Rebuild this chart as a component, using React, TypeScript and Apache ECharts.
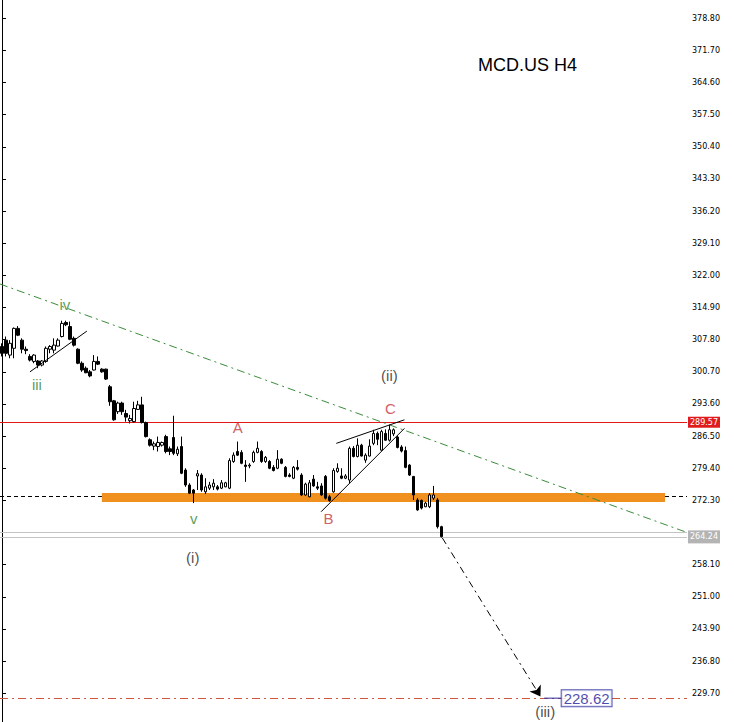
import React, { useEffect, useRef } from "react";
import * as echarts from "echarts";

// [open, close, low, high]
const ohlc: number[][] = [
  [306.3, 304.8, 304.1, 307.0], [307.7, 304.8, 304.1, 308.5], [304.4, 307.0, 303.7, 307.7], [305.9, 310.3, 303.7, 310.5],
  [310.3, 308.8, 308.6, 310.8], [307.7, 305.7, 304.8, 308.1], [305.7, 305.4, 304.6, 306.3], [304.1, 303.3, 303.0, 304.6],
  [303.0, 304.4, 302.6, 304.6], [303.1, 302.2, 301.5, 303.3], [302.2, 303.1, 301.9, 303.3], [303.0, 305.9, 302.7, 306.3],
  [305.7, 306.3, 304.8, 306.6], [305.5, 306.6, 304.8, 308.1], [306.4, 307.7, 306.3, 308.1], [308.5, 311.4, 308.3, 312.0],
  [311.6, 311.1, 310.8, 312.0], [310.7, 307.9, 307.7, 311.8], [308.1, 306.6, 306.3, 308.5], [305.7, 302.6, 302.4, 305.9],
  [302.6, 301.1, 300.7, 303.0], [301.5, 300.5, 300.4, 301.9], [300.7, 299.8, 299.5, 301.1], [301.1, 303.0, 301.0, 304.4],
  [303.0, 302.4, 302.2, 304.1], [301.3, 300.7, 300.5, 301.5], [301.3, 299.1, 298.9, 301.4], [297.4, 294.1, 293.2, 297.8],
  [294.3, 290.1, 289.9, 294.5], [291.9, 293.8, 291.4, 294.1], [293.8, 291.9, 291.2, 294.1], [291.5, 290.7, 289.7, 292.3],
  [289.9, 290.4, 289.3, 291.2], [289.7, 292.6, 289.5, 294.1], [292.4, 293.4, 292.3, 294.3], [293.4, 289.5, 289.3, 295.2],
  [289.5, 286.4, 286.2, 289.7], [285.7, 284.5, 284.2, 286.0], [284.3, 284.8, 283.4, 285.3], [284.2, 285.1, 283.1, 286.4],
  [284.5, 285.1, 284.2, 285.3], [286.4, 283.1, 282.7, 286.8], [283.7, 283.1, 282.3, 284.2], [286.2, 282.7, 282.3, 291.0],
  [282.6, 283.6, 282.1, 284.2], [284.2, 278.3, 278.1, 286.4], [279.0, 275.7, 275.3, 279.4], [275.7, 273.9, 273.7, 276.1],
  [274.6, 273.9, 271.7, 274.8], [277.7, 278.2, 274.6, 279.0], [277.9, 274.6, 274.2, 278.3], [274.2, 275.3, 273.7, 277.2],
  [275.0, 275.7, 274.6, 276.4], [275.3, 276.1, 274.6, 277.0], [275.3, 274.8, 274.5, 275.7], [275.0, 276.2, 274.8, 276.8],
  [275.3, 276.2, 275.2, 276.4], [275.0, 281.1, 274.8, 281.6], [280.9, 282.3, 280.6, 282.9], [283.1, 282.3, 282.1, 285.3],
  [282.9, 280.5, 280.3, 283.4], [280.1, 279.8, 276.4, 281.2], [279.9, 280.1, 279.4, 280.5], [280.9, 282.9, 280.6, 283.3],
  [282.9, 283.8, 282.7, 285.3], [283.1, 280.9, 280.6, 283.4], [280.9, 281.8, 280.6, 282.1], [280.9, 279.4, 279.2, 281.2],
  [279.6, 278.9, 278.7, 280.1], [279.4, 281.4, 279.2, 283.4], [281.4, 280.5, 280.3, 281.6], [279.6, 277.6, 277.4, 279.9],
  [277.9, 277.6, 277.4, 278.3], [277.2, 279.6, 277.0, 279.9], [279.6, 279.2, 278.9, 281.2], [277.9, 273.5, 273.3, 278.3],
  [273.5, 275.9, 273.3, 276.2], [273.1, 276.2, 273.0, 276.8], [277.0, 275.5, 275.3, 277.9], [275.3, 275.0, 274.6, 276.4],
  [275.5, 273.5, 273.3, 276.1], [277.6, 272.8, 272.5, 277.9], [273.1, 272.3, 272.0, 273.5], [274.2, 278.9, 274.0, 279.4],
  [278.7, 279.4, 278.4, 280.5], [277.7, 277.2, 277.0, 279.4], [277.2, 277.7, 277.0, 278.1], [276.8, 283.8, 276.1, 284.2],
  [283.8, 282.0, 281.8, 284.3], [282.0, 284.5, 281.8, 286.0], [284.5, 282.1, 282.0, 284.8], [281.2, 282.3, 280.6, 282.7],
  [282.1, 284.3, 282.0, 285.8], [284.9, 287.1, 284.5, 287.9], [287.1, 285.8, 284.5, 287.5], [283.4, 287.5, 283.3, 287.9],
  [287.1, 285.6, 285.5, 288.0], [285.6, 287.9, 285.3, 289.0], [287.0, 287.9, 286.5, 288.2], [286.3, 284.0, 283.8, 286.6],
  [284.1, 283.2, 282.9, 284.5], [283.3, 279.6, 279.4, 284.2], [280.1, 277.9, 277.7, 280.3], [277.6, 273.5, 272.4, 277.7],
  [272.4, 270.2, 270.0, 272.8], [272.3, 270.6, 270.3, 272.5], [270.9, 271.7, 270.8, 272.0], [270.9, 273.5, 270.6, 273.9],
  [272.8, 273.5, 272.4, 275.5], [272.4, 266.5, 266.1, 272.8], [266.5, 264.3, 264.1, 266.7],
];

const slotCount = 172;
const categories = Array.from({ length: slotCount }, (_, i) => String(i));

// price-axis tick labels
const priceTicks = [
  229.7, 236.8, 243.9, 251.0, 258.1, 272.3, 279.4, 286.5, 293.6, 300.7, 307.8,
  314.9, 322.0, 329.1, 336.2, 343.3, 350.4, 357.5, 364.6, 371.7, 378.8,
];
const priceMin = 223.35;
const priceMax = 382.84;

// price levels
const resistance = 289.57;
const supportUpper = 265.3;
const supportLower = 264.24;
const dashedLevel = 273.2;
const target = 228.62;

// lines in [candle index, price]
const zoneLine = [[25, 272.95], [166, 272.95]];
const trendLine = [[-0.5, 320.1], [171.25, 265.3]];
const ivLine = [[7, 300.7], [21.25, 309.7]];
const wedgeLower = [[79.9, 269.8], [100.75, 288.2]];
const wedgeUpper = [[83.7, 284.9], [100.75, 290.1]];
const projection = [[110.25, 264.0], [134.8, 229.0]];
const targetTag = [[135.75, target], [140, target]];

// wave labels [candle index, price, text]
const greenLabels: [number, number, string][] = [[15.75, 315.5, "iv"], [8.75, 297.8, "iii"], [48, 268.2, "v"]];
const redLabels: [number, number, string][] = [[59, 288.5, "A"], [81.75, 268.2, "B"], [97.25, 292.5, "C"]];
const blackLabels: [number, number, string][] = [[47.75, 259.6, "(i)"], [97, 299.8, "(ii)"], [136, 225.6, "(iii)"]];

const labelSeries = (arr: [number, number, string][], color: string) => ({
  type: "scatter",
  xAxisIndex: 1,
  symbolSize: 1,
  itemStyle: { color: "rgba(0,0,0,0)" },
  z: 10,
  label: {
    show: true,
    position: "inside",
    color,
    fontFamily: "Liberation Sans",
    fontSize: 15,
    formatter: (p: any) => p.name,
  },
  data: arr.map((a) => ({ value: [a[0], a[1]], name: a[2] })),
});

const thinLine = (data: number[][], color: string, type: any = "solid") => ({
  type: "line",
  xAxisIndex: 1,
  symbol: "none",
  data,
  z: 4,
  lineStyle: { color, width: 1, type },
});

export default function App() {
  const ref = useRef<HTMLDivElement>(null);
  useEffect(() => {
    if (!ref.current) return;
    const chart = echarts.init(ref.current, null, { renderer: "svg" });
    const axisLabelFont = { fontFamily: "DejaVu Sans", fontSize: 8 };
    chart.setOption({
      animation: false,
      backgroundColor: "#fff",
      title: {
        text: "MCD.US H4",
        left: 478,
        top: 56,
        padding: 0,
        textStyle: { fontFamily: "Liberation Sans", fontSize: 18, fontWeight: "normal", color: "#000" },
      },
      grid: { left: 0, top: 0, right: 47, bottom: 0 },
      xAxis: [
        { type: "category", data: categories, boundaryGap: true, show: false },
        { type: "value", min: -0.5, max: slotCount - 0.5, show: false },
      ],
      yAxis: {
        type: "value",
        position: "right",
        min: priceMin,
        max: priceMax,
        axisLine: { show: true, lineStyle: { color: "#000", width: 1 } },
        axisTick: { show: true, length: 4, lineStyle: { color: "#000" }, customValues: priceTicks },
        axisLabel: {
          ...axisLabelFont,
          color: "#000",
          margin: 5,
          customValues: priceTicks,
          formatter: (v: number) => v.toFixed(2),
        },
        splitLine: { show: false },
      },
      series: [
        {
          type: "line",
          xAxisIndex: 1,
          symbol: "none",
          data: zoneLine,
          z: 1,
          lineStyle: { color: "#F0901E", width: 9, cap: "butt" },
          markLine: {
            symbol: ["none", "none"],
            silent: true,
            z: 1,
            data: [
              {
                yAxis: dashedLevel,
                lineStyle: { color: "#000", width: 1, type: [4, 3] },
                label: { show: false },
              },
              {
                yAxis: target,
                lineStyle: { color: "#d0583a", width: 1, type: [8, 4, 2, 4] },
                label: { show: false },
              },
              {
                yAxis: supportUpper,
                lineStyle: { color: "#c4c4c4", width: 1, type: "solid" },
                label: { show: false },
              },
              {
                yAxis: supportLower,
                lineStyle: { color: "#c4c4c4", width: 1, type: "solid" },
                label: {
                  show: true, position: "end", distance: 1, formatter: supportLower.toFixed(2),
                  backgroundColor: "#b4b4b4", color: "#fff", padding: [3, 2, 2, 2], ...axisLabelFont,
                },
              },
              {
                yAxis: resistance,
                lineStyle: { color: "#e01818", width: 1, type: "solid" },
                label: {
                  show: true, position: "end", distance: 1, formatter: resistance.toFixed(2),
                  backgroundColor: "#e01b1b", color: "#fff", padding: [2, 2, 1, 2], ...axisLabelFont,
                },
              },
            ],
          },
        },
        {
          type: "candlestick",
          xAxisIndex: 0,
          data: ohlc,
          barWidth: 3,
          z: 3,
          itemStyle: { color: "#fff", color0: "#000", borderColor: "#000", borderColor0: "#000", borderWidth: 1 },
        },
        thinLine(trendLine, "#3c8c3c", [8, 4, 2, 4]),
        thinLine(ivLine, "#000"),
        thinLine(wedgeLower, "#000"),
        thinLine(wedgeUpper, "#000"),
        {
          type: "line",
          xAxisIndex: 1,
          symbol: "none",
          data: targetTag,
          z: 5,
          lineStyle: { color: "#2a2aa0", width: 1 },
          markLine: {
            silent: true,
            symbol: ["none", "arrow"],
            symbolSize: 10,
            label: { show: false },
            lineStyle: { color: "#000", width: 1, type: [7, 4, 2, 4] },
            data: [[{ coord: projection[0] }, { coord: projection[1] }]],
          },
        },
        {
          type: "scatter",
          xAxisIndex: 1,
          symbolSize: 1,
          itemStyle: { color: "rgba(0,0,0,0)" },
          z: 11,
          data: [targetTag[1]],
          label: {
            show: true,
            position: "right",
            distance: 0,
            formatter: target.toFixed(2),
            color: "#1c1c9c",
            fontFamily: "Liberation Sans",
            fontSize: 15,
            backgroundColor: "#fff",
            borderColor: "#2a2aa0",
            borderWidth: 1,
            padding: [1, 2, 0, 2],
          },
        },
        labelSeries(greenLabels, "#2f852f"),
        labelSeries(redLabels, "#c4343a"),
        labelSeries(blackLabels, "#222"),
      ],
    });
    return () => chart.dispose();
  }, []);
  return <div ref={ref} style={{ position: "absolute", left: 0, top: 0, width: 734, height: 722 }} />;
}
